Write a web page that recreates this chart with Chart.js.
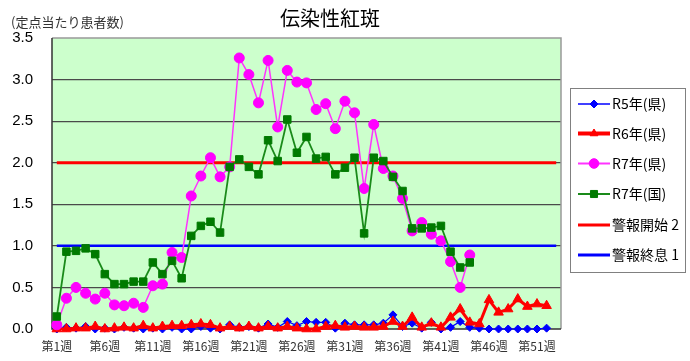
<!DOCTYPE html>
<html><head><meta charset="utf-8">
<script src="https://cdn.jsdelivr.net/npm/chart.js@4.4.0/dist/chart.umd.min.js"></script>
<style>html,body{margin:0;padding:0;background:#fff;}#wrap{width:690px;height:361px;position:relative;}</style>
</head><body><div id="wrap"><canvas id="c" width="690" height="361"></canvas></div>
<script>
const weeks = Array.from({length: 53}, (_, i) => '第' + (i + 1) + '週');
const yTicks = [0, 0.5, 1.0, 1.5, 2.0, 2.5, 3.0, 3.5];
const r5Ken = [0.0,0.02,0.01,0.03,0.0,0.01,0.0,0.02,0.01,0.0,0.01,0.0,0.02,0.0,0.0,0.03,0.01,0.0,0.05,0.02,0.03,0.01,0.06,0.02,0.09,0.04,0.09,0.08,0.08,0.01,0.07,0.05,0.05,0.05,0.07,0.17,0.03,0.07,0.01,0.08,0.0,0.02,0.09,0.02,0.01,0.0,0.0,0.0,0.0,0.0,0.0,0.01];
const r6Ken = [0.0,0.0,0.01,0.01,0.03,0.0,0.01,0.02,0.01,0.04,0.01,0.03,0.04,0.04,0.05,0.06,0.05,0.01,0.03,0.01,0.03,0.01,0.03,0.01,0.03,0.01,0.0,0.0,0.03,0.04,0.02,0.03,0.02,0.02,0.03,0.09,0.03,0.14,0.02,0.07,0.02,0.14,0.24,0.08,0.06,0.35,0.20,0.24,0.36,0.27,0.30,0.28];
const r7Ken = [0.05,0.37,0.50,0.43,0.36,0.43,0.29,0.28,0.31,0.26,0.52,0.54,0.92,0.86,1.60,1.84,2.06,1.83,1.95,3.26,3.06,2.72,3.23,2.43,3.11,2.97,2.96,2.64,2.71,2.41,2.74,2.60,1.69,2.46,1.93,1.84,1.57,1.18,1.28,1.14,1.06,0.81,0.50,0.89];
const r7Kuni = [0.15,0.93,0.94,0.97,0.90,0.66,0.54,0.54,0.57,0.57,0.80,0.66,0.82,0.61,1.12,1.24,1.29,1.16,1.95,2.04,1.95,1.86,2.27,2.02,2.52,2.12,2.31,2.05,2.07,1.86,1.94,2.06,1.15,2.06,2.02,1.83,1.66,1.21,1.21,1.22,1.24,0.93,0.74,0.80];
const alertStartLevel = 2;
const alertEndLevel = 1;
const seriesNames = ['R5年(県)', 'R6年(県)', 'R7年(県)', 'R7年(国)', '警報開始 2', '警報終息 1'];

const JP = '"Noto Sans CJK JP", "Noto Sans", sans-serif';

const bgPlugin = {
  id: 'bg',
  beforeDraw(chart) {
    const {ctx, chartArea: a} = chart;
    ctx.save();
    ctx.fillStyle = '#ccffcc';
    ctx.fillRect(a.left, a.top, a.right - a.left, a.bottom - a.top);
    ctx.restore();
  },
  beforeDatasetsDraw(chart) {
    const {ctx, chartArea: a} = chart;
    ctx.save();
    ctx.strokeStyle = '#999';
    ctx.lineWidth = 1.5;
    ctx.beginPath();
    ctx.moveTo(a.left, a.top); ctx.lineTo(a.right, a.top); ctx.lineTo(a.right, a.bottom);
    ctx.stroke();
    ctx.strokeStyle = '#333';
    ctx.lineWidth = 1.5;
    ctx.beginPath();
    ctx.moveTo(a.left, a.top); ctx.lineTo(a.left, a.bottom); ctx.lineTo(a.right, a.bottom);
    ctx.stroke();
    ctx.restore();
  },
  afterDraw(chart) {
    const ctx = chart.ctx;
    ctx.save();
    ctx.fillStyle = '#000';
    ctx.textBaseline = 'middle';
    ctx.textAlign = 'center';
    ctx.font = '20px ' + JP;
    ctx.fillText('伝染性紅斑', 330, 18);
    ctx.textAlign = 'left';
    ctx.fillStyle = '#333';
    ctx.font = '13px ' + JP;
    ctx.fillText('(定点当たり患者数)', 11, 22);
    // legend
    const bx = 570, by = 88, bw = 115, bh = 184;
    ctx.strokeStyle = '#808080';
    ctx.lineWidth = 1;
    ctx.strokeRect(bx + 0.5, by + 0.5, bw, bh);
    const ys = [104, 133.5, 163.5, 194, 225, 255];
    chart.data.datasets.forEach((ds, i) => {
      const y = ys[i];
      ctx.strokeStyle = ds.borderColor;
      ctx.lineWidth = ds.legendLineWidth;
      ctx.beginPath(); ctx.moveTo(578, y); ctx.lineTo(610, y); ctx.stroke();
      if (ds.pointRadius > 0) {
        ctx.fillStyle = ds.pointBackgroundColor;
        ctx.strokeStyle = ds.pointBorderColor;
        ctx.lineWidth = 1;
        Chart.helpers.drawPoint(ctx, {pointStyle: ds.pointStyle, radius: ds.legendRadius, rotation: 0, borderWidth: 1}, 594, y);
      }
      ctx.fillStyle = '#000';
      ctx.font = '14px ' + JP;
      ctx.textAlign = 'left';
      ctx.fillText(ds.label, 612, y);
    });
    ctx.restore();
  }
};

new Chart(document.getElementById('c'), {
  type: 'line',
  data: {
    labels: weeks,
    datasets: [
      {label: seriesNames[0], data: r5Ken, borderColor: '#0000ff', borderWidth: 1.2, legendLineWidth: 1.5, legendRadius: 4,
       pointStyle: 'rectRot', pointRadius: 4, pointBackgroundColor: '#0000ff', pointBorderColor: '#0000ff', pointBorderWidth: 1, order: 5, clip: false},
      {label: seriesNames[1], data: r6Ken, borderColor: '#ff0000', borderWidth: 3, legendLineWidth: 4, legendRadius: 4.5,
       pointStyle: 'triangle', pointRadius: 5.5, pointBackgroundColor: '#ff0000', pointBorderColor: '#ff0000', pointBorderWidth: 1, order: 4, clip: false},
      {label: seriesNames[2], data: r7Ken, borderColor: '#ff33ff', borderWidth: 1.5, legendLineWidth: 2, legendRadius: 4.8,
       pointStyle: 'circle', pointRadius: 5, pointBackgroundColor: '#ff00ff', pointBorderColor: '#ff00ff', pointBorderWidth: 1, order: 3, clip: false},
      {label: seriesNames[3], data: r7Kuni, borderColor: '#1a8a1a', borderWidth: 1.8, legendLineWidth: 2, legendRadius: 5,
       pointStyle: 'rect', pointRadius: 5.3, pointBackgroundColor: '#007a00', pointBorderColor: '#007a00', pointBorderWidth: 1, order: 2, clip: false},
      {label: seriesNames[4], data: weeks.map(() => alertStartLevel), borderColor: '#ff0000', borderWidth: 3, legendLineWidth: 3,
       pointRadius: 0, order: 10},
      {label: seriesNames[5], data: weeks.map(() => alertEndLevel), borderColor: '#0000ff', borderWidth: 2.5, legendLineWidth: 3,
       pointRadius: 0, order: 9}
    ]
  },
  options: {
    responsive: false,
    animation: false,
    devicePixelRatio: 1,
    layout: {padding: {left: 0, right: 129, top: 38, bottom: 0}},
    elements: {line: {tension: 0}},
    plugins: {legend: {display: false}, tooltip: {enabled: false}, title: {display: false}},
    scales: {
      x: {
        type: 'category',
        offset: true,
        grid: {display: false, drawTicks: false},
        border: {display: false},
        ticks: {
          autoSkip: false, maxRotation: 0, minRotation: 0, padding: 10,
          color: '#333', font: {family: JP, size: 12},
          callback: function(v, i) { return i % 5 === 0 ? this.getLabelForValue(v) : ''; }
        },
        afterFit(s) { s.height = 32; }
      },
      y: {
        min: 0, max: 3.5,
        afterBuildTicks(s) { s.ticks = yTicks.map(v => ({value: v})); },
        grid: {color: (c) => (c.tick && (c.tick.value === 0 || c.tick.value === 3.5)) ? 'rgba(0,0,0,0)' : '#4a4a4a', lineWidth: 1.2, drawTicks: false},
        border: {display: false},
        ticks: {padding: 19, color: '#000', font: {family: '"Liberation Sans", Arial, sans-serif', size: 15},
                callback: (v) => Number(v).toFixed(1)},
        afterFit(s) { s.width = 52; }
      }
    }
  },
  plugins: [bgPlugin]
});
</script></body></html>
